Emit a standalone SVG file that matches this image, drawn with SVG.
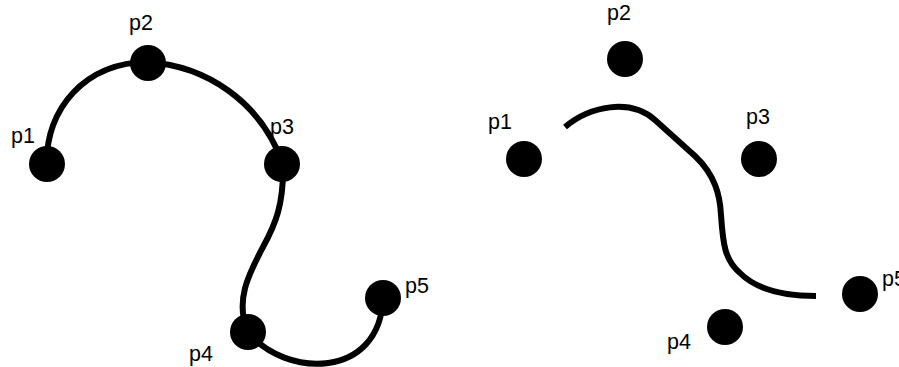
<svg xmlns="http://www.w3.org/2000/svg" width="899" height="367" viewBox="0 0 899 367">
<style>
.curve{fill:none;stroke:#000;stroke-width:6;stroke-linecap:butt;stroke-linejoin:round}
.pt{fill:#000}
.lbl{font-family:"Liberation Sans",Arial,sans-serif;font-size:21.5px;fill:#000}
</style>
<rect width="899" height="367" fill="#fff"/>
<g id="connectors">
<path id="curve-left" class="curve" d="M47,164 C45,110 85,62 148,62 C205,66 260,100 283,164 C284,205 275,225 263,247 C250,272 234,300 248,332 C285,378 380,380 383,298"/>
<path id="curve-right" class="curve" d="M565,127 C590,106 630,98 655,120 L695,156 C715,175 720,195 721,215 C723,245 725,260 740,273 C755,288 780,296 816,296"/>
</g>
<g id="left-p1"><circle class="pt" cx="47" cy="164" r="18"/><text class="lbl" x="11" y="143">p1</text></g>
<g id="left-p2"><circle class="pt" cx="148" cy="63" r="18"/><text class="lbl" x="129" y="30">p2</text></g>
<g id="left-p3"><circle class="pt" cx="282" cy="164" r="18"/><text class="lbl" x="270" y="134">p3</text></g>
<g id="left-p4"><circle class="pt" cx="248" cy="332" r="18"/><text class="lbl" x="189" y="361">p4</text></g>
<g id="left-p5"><circle class="pt" cx="383" cy="298" r="18"/><text class="lbl" x="405" y="293">p5</text></g>
<g id="right-p1"><circle class="pt" cx="524" cy="159" r="18"/><text class="lbl" x="488" y="129">p1</text></g>
<g id="right-p2"><circle class="pt" cx="625" cy="59" r="18"/><text class="lbl" x="607" y="20">p2</text></g>
<g id="right-p3"><circle class="pt" cx="759" cy="159" r="18"/><text class="lbl" x="746" y="124">p3</text></g>
<g id="right-p4"><circle class="pt" cx="725" cy="327" r="18"/><text class="lbl" x="667" y="349">p4</text></g>
<g id="right-p5"><circle class="pt" cx="860" cy="294" r="18"/><text class="lbl" x="882" y="286">p5</text></g>
</svg>
